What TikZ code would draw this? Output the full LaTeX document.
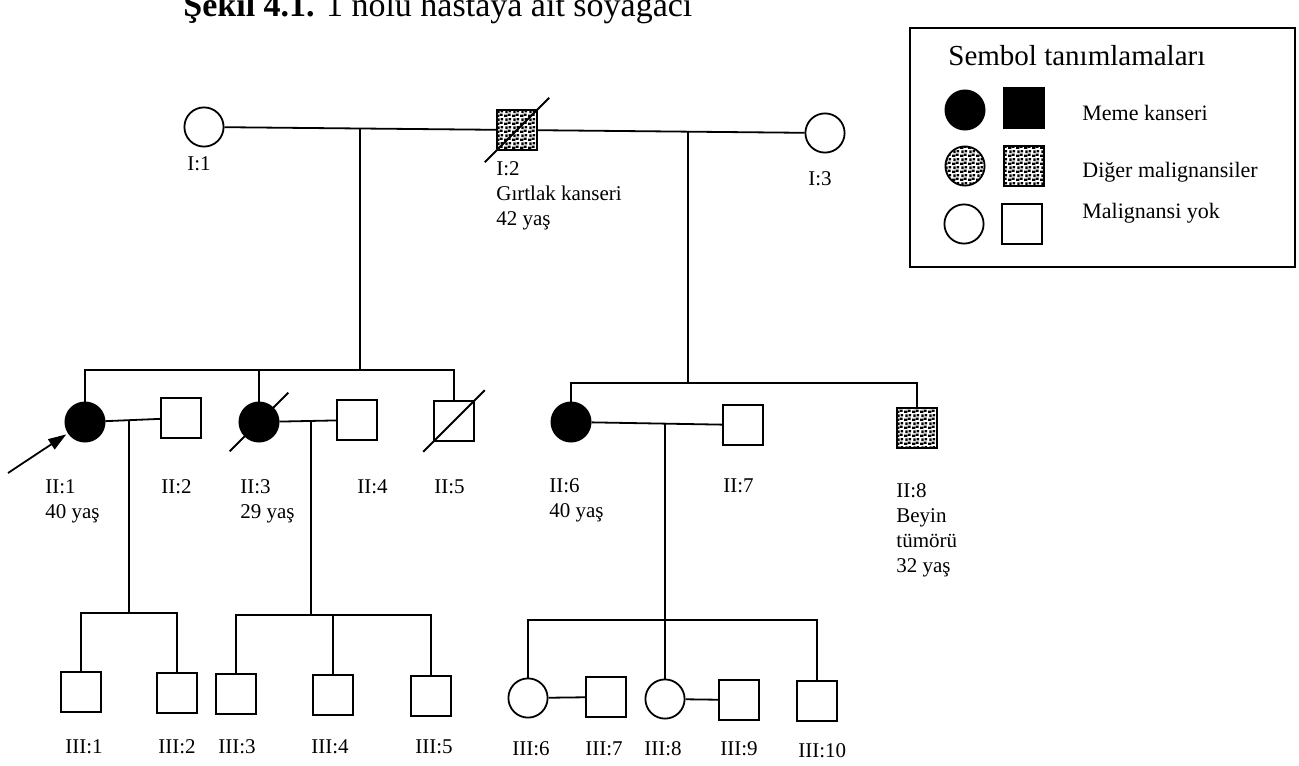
\documentclass[tikz,border=0pt]{standalone}
\usepackage{fontspec}
\setmainfont{Liberation Serif}
\usetikzlibrary{arrows.meta,patterns.meta}

\tikzdeclarepattern{
  name=stipple,
  type=uncolored,
  bounding box={(0pt,0pt) and (4pt,4pt)},
  tile size={(4pt,4pt)},
  code={
    \pgfpathrectangle{\pgfpoint{0.1pt}{0.1pt}}{\pgfpoint{1.7pt}{1.2pt}}
    \pgfpathrectangle{\pgfpoint{2.2pt}{0.6pt}}{\pgfpoint{1.5pt}{1.2pt}}
    \pgfpathrectangle{\pgfpoint{0.8pt}{2.1pt}}{\pgfpoint{1.2pt}{1.6pt}}
    \pgfpathrectangle{\pgfpoint{2.5pt}{2.6pt}}{\pgfpoint{1.4pt}{1.2pt}}
    \pgfusepath{fill}
  }
}

\begin{document}
\begin{tikzpicture}[x=0.5pt, y=-0.5pt,
  female/.style={circle, draw, line width=0.9pt, minimum size=19.6pt, inner sep=0pt},
  male/.style={rectangle, draw, line width=0.9pt, minimum size=20pt, inner sep=0pt},
  breast/.style={fill=black},
  other/.style={pattern=stipple, pattern color=black},
  link/.style={line width=0.9pt},
  dead/.style={line width=0.9pt, shorten <=-#1, shorten >=-#1},
  idlabel/.style={anchor=base west, inner sep=0pt, align=left, font=\fontsize{10.5}{12.5}\selectfont},
  keytext/.style={anchor=base west, inner sep=0pt, font=\fontsize{11}{13}\selectfont}]
  \useasboundingbox (0,0) rectangle (1299,765);
  \clip (0,0) rectangle (1299,765);

  \node[anchor=base west, inner sep=0pt, font=\fontsize{17}{20}\selectfont] (title) at (183,17) {\textbf{Şekil 4.1.} 1 nolu hastaya ait soyağacı};

  \node[female] (I1) at (204,127) {};
  \node[male, other] (I2) at (517,130) {};
  \node[female] (I3) at (825,133) {};

  \node[female, breast] (II1) at (85,422) {};
  \node[male] (II2) at (181,418) {};
  \node[female, breast] (II3) at (259,422) {};
  \node[male] (II4) at (357,420) {};
  \node[male] (II5) at (454,421) {};
  \node[female, breast] (II6) at (571,422) {};
  \node[male] (II7) at (743,425) {};
  \node[male, other] (II8) at (917,428) {};

  \node[male] (III1) at (81,692) {};
  \node[male] (III2) at (177,693) {};
  \node[male] (III3) at (236,694) {};
  \node[male] (III4) at (333,695) {};
  \node[male] (III5) at (431,696) {};
  \node[female] (III6) at (528,698) {};
  \node[male] (III7) at (606,697) {};
  \node[female] (III8) at (665,699) {};
  \node[male] (III9) at (739,700) {};
  \node[male] (III10) at (817,701) {};

  \coordinate (u1) at (360,128.5);
  \coordinate (s1) at (360,370);
  \coordinate (u2) at (688,131.7);
  \coordinate (s2) at (688,383);
  \coordinate (u3) at (129,420);
  \coordinate (s3) at (129,613);
  \coordinate (u4) at (311,421);
  \coordinate (s4) at (311,615);
  \coordinate (u5) at (665,423.6);
  \coordinate (s5) at (665,620);
  \coordinate (pa) at (8,473);

  \draw[link] (I1) -- (I2);
  \draw[link] (I2) -- (I3);
  \draw[link] (u1) -- (s1);
  \draw[link] (II1) -- (II1 |- s1) -- (II5 |- s1) -- (II5);
  \draw[link] (II3) -- (II3 |- s1);
  \draw[link] (u2) -- (s2);
  \draw[link] (II6) -- (II6 |- s2) -- (II8 |- s2) -- (II8);

  \draw[link] (II1) -- (II2);
  \draw[link] (II3) -- (II4);
  \draw[link] (II6) -- (II7);
  \draw[link] (u3) -- (s3);
  \draw[link] (III1) -- (III1 |- s3) -- (III2 |- s3) -- (III2);
  \draw[link] (u4) -- (s4);
  \draw[link] (III3) -- (III3 |- s4) -- (III5 |- s4) -- (III5);
  \draw[link] (III4) -- (III4 |- s4);
  \draw[link] (u5) -- (III8);
  \draw[link] (III6) -- (III6 |- s5) -- (III10 |- s5) -- (III10);
  \draw[link] (III6) -- (III7);
  \draw[link] (III8) -- (III9);

  \draw[dead=8pt] (I2.south west) -- (I2.north east);
  \draw[dead=10.5pt] (II3.south west) -- (II3.north east);
  \draw[dead=7pt] (II5.south west) -- (II5.north east);
  \draw[link, -{Triangle[length=9pt, width=6pt]}, shorten >=1pt] (pa) -- (II1);

  \node[idlabel] (lI1) at (187,170) {I:1};
  \node[idlabel] (lI2) at (496,225) {I:2\\Gırtlak kanseri\\42 yaş};
  \node[idlabel] (lI3) at (808,185) {I:3};
  \node[idlabel] (lII1) at (45,518) {II:1\\40 yaş};
  \node[idlabel] (lII2) at (161,493) {II:2};
  \node[idlabel] (lII3) at (240,518) {II:3\\29 yaş};
  \node[idlabel] (lII4) at (357,493) {II:4};
  \node[idlabel] (lII5) at (434,493) {II:5};
  \node[idlabel] (lII6) at (549,517) {II:6\\40 yaş};
  \node[idlabel] (lII7) at (723,492) {II:7};
  \node[idlabel] (lII8) at (896,572) {II:8\\Beyin\\tümörü\\32 yaş};
  \node[idlabel] (lIII1) at (65,753) {III:1};
  \node[idlabel] (lIII2) at (158,753) {III:2};
  \node[idlabel] (lIII3) at (218,753) {III:3};
  \node[idlabel] (lIII4) at (311,753) {III:4};
  \node[idlabel] (lIII5) at (415,753) {III:5};
  \node[idlabel] (lIII6) at (512,755) {III:6};
  \node[idlabel] (lIII7) at (585,755) {III:7};
  \node[idlabel] (lIII8) at (644,755) {III:8};
  \node[idlabel] (lIII9) at (720,755) {III:9};
  \node[idlabel] (lIII10) at (798,757) {III:10};

  \draw[link] (910,28) rectangle (1295,267);
  \node[keytext, font=\fontsize{14.5}{17}\selectfont] (keytitle) at (948,66) {Sembol tanımlamaları};
  \node[female, breast] (kbf) at (965,110) {};
  \node[male, breast] (kbm) at (1024,108) {};
  \node[female, other] (kof) at (965,166) {};
  \node[male, other] (kom) at (1024,166) {};
  \node[female] (knf) at (964,224) {};
  \node[male] (knm) at (1022,224) {};
  \node[keytext] (kbt) at (1082,120) {Meme kanseri};
  \node[keytext] (kot) at (1082,177) {Diğer malignansiler};
  \node[keytext] (knt) at (1082,218) {Malignansi yok};
\end{tikzpicture}
\end{document}
